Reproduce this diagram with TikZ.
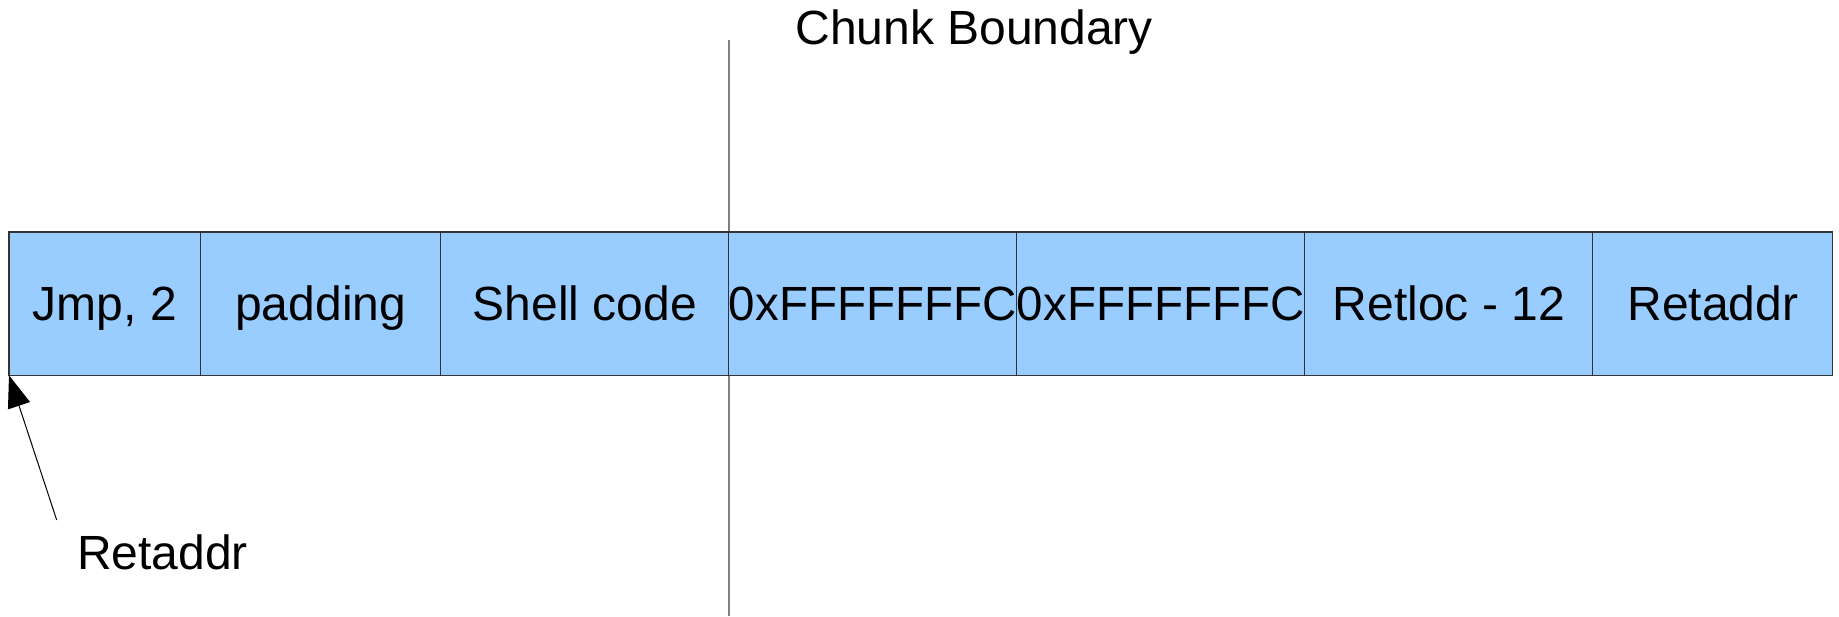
\documentclass[tikz,border=0pt]{standalone}
\usepackage{fontspec}
\setmainfont{Liberation Sans}
\usetikzlibrary{arrows.meta}
\definecolor{cellblue}{HTML}{99CCFF}
\definecolor{cellline}{HTML}{333333}
\definecolor{bndline}{HTML}{808080}
\begin{document}
\begin{tikzpicture}[x=0.5pt,y=-0.5pt,
  cell/.style={draw=cellline, line width=0.6pt, fill=cellblue, minimum height=71.65pt,
    inner sep=0pt, outer sep=0pt, anchor=west, text height=17.2pt, text depth=0pt,
    font=\fontsize{24}{29}\selectfont},
  lbl/.style={inner sep=0pt, anchor=west, text height=17.2pt, text depth=0pt,
    font=\fontsize{24}{29}\selectfont}]
\useasboundingbox (0,0) rectangle (1839,616);
\coordinate (ct) at (728.7,40);
\coordinate (cb) at (728.7,616);
\draw[bndline, line width=1pt] (ct) -- (cb);
\node[cell, minimum width=95.85pt] (b1) at (9,303.65) {Jmp, 2};
\node[cell, minimum width=120pt] (b2) at (b1.east) {padding};
\node[cell, minimum width=144pt] (b3) at (b2.east) {Shell code};
\node[cell, minimum width=144pt] (b4) at (b3.east) {\scalebox{0.99}[1]{0xFFFFFFFC}};
\node[cell, minimum width=144pt] (b5) at (b4.east) {\scalebox{0.99}[1]{0xFFFFFFFC}};
\node[cell, minimum width=144pt] (b6) at (b5.east) {Retloc - 12};
\node[cell, minimum width=120pt] (b7) at (b6.east) {Retaddr};
\node[lbl] (cbl) at (795,27) {Chunk Boundary};
\node[lbl] (ral) at (76.7,552) {Retaddr};
\coordinate (rs) at (56.7,520);
\draw[black, line width=0.5pt, -{Triangle[length=16pt,width=11.5pt]}] (rs) -- (b1.south west);
\end{tikzpicture}
\end{document}
